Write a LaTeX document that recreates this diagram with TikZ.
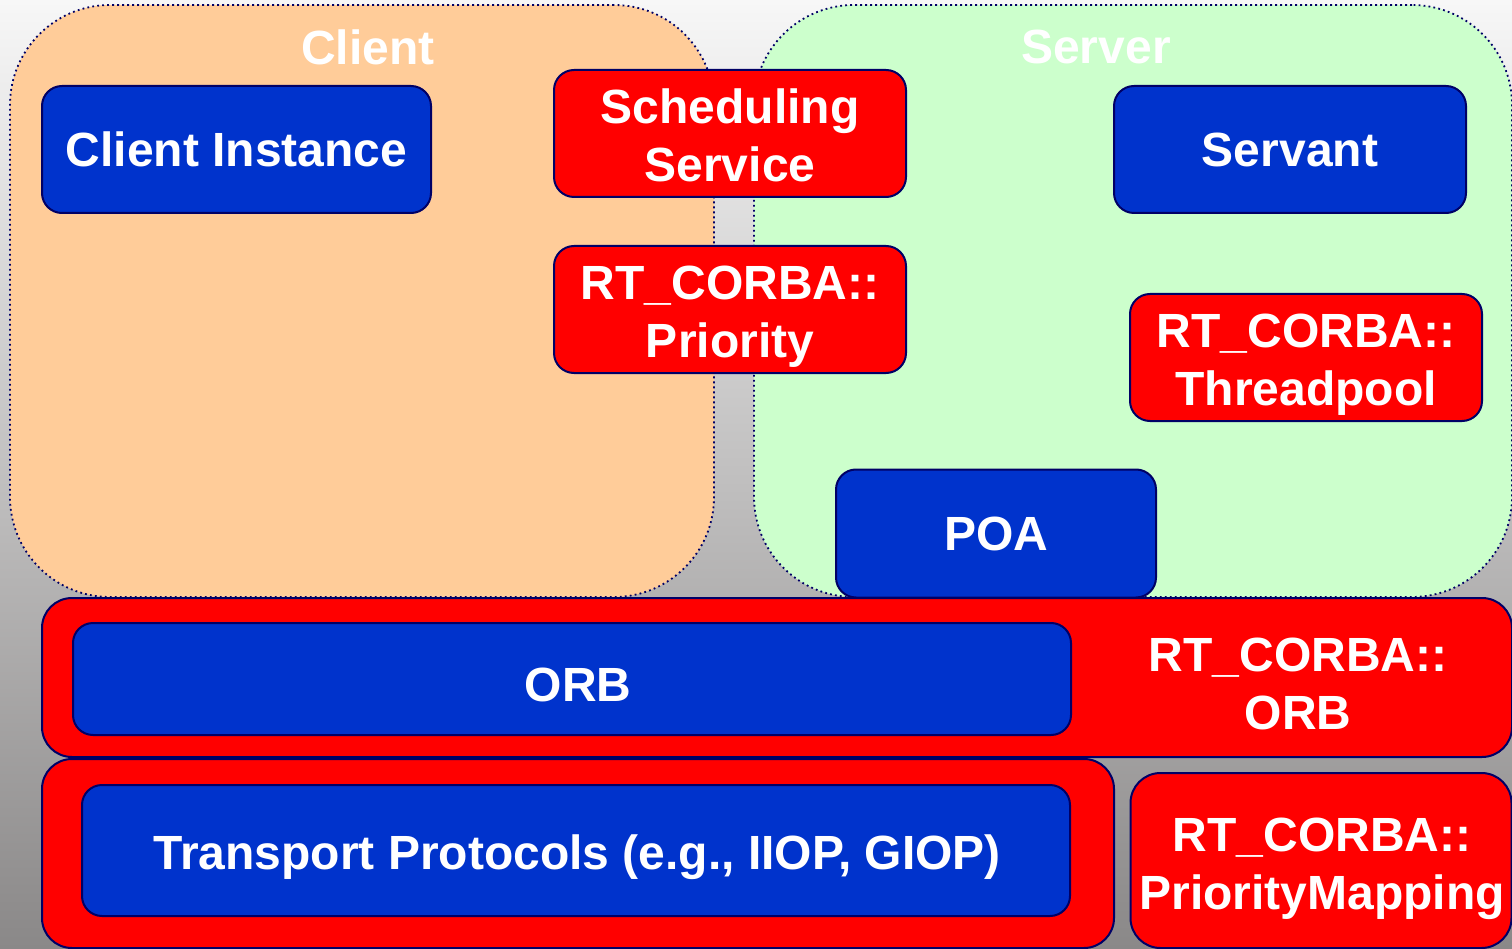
\documentclass[tikz,border=0pt]{standalone}
\usepackage{fontspec}
\setmainfont{Liberation Sans}
\definecolor{navyb}{HTML}{000066}
\definecolor{boxblue}{HTML}{0033CC}
\definecolor{boxred}{HTML}{FF0000}
\definecolor{peach}{HTML}{FFCC99}
\definecolor{mint}{HTML}{CCFFCC}
\definecolor{bgtop}{HTML}{F7F7F7}
\definecolor{bgbot}{HTML}{8A8888}
\tikzset{
  lbl/.style={text=white, font=\bfseries\fontsize{48}{58}\selectfont, align=center, inner sep=0pt},
  boxbase/.style={draw=navyb, line width=2pt, rounded corners=20pt, lbl, text height=34.5pt, text depth=0pt},
  bluebox/.style={boxbase, fill=boxblue},
  redbox/.style={boxbase, fill=boxred},
  region/.style={draw=navyb, line width=1.8pt, dash pattern=on 1.8pt off 3.2pt, rounded corners=100pt, inner sep=0pt},
}
\begin{document}
\begin{tikzpicture}[x=1pt,y=-1pt]
\useasboundingbox (0,0) rectangle (1512,949);
\clip (0,0) rectangle (1512,949);
\shade[top color=bgtop, bottom color=bgbot] (0,0) rectangle (1512,949);
% regions
\node[region, fill=peach, minimum width=704pt, minimum height=592pt] (client) at (362,301) {};
\node[region, fill=mint, minimum width=758pt, minimum height=592pt] (server) at (1133,301) {};
\node[lbl] (clientlbl) at (368,47) {Client};
\node[lbl] (serverlbl) at (1096,47) {Server};
% client/server boxes
\node[bluebox, minimum width=389pt, minimum height=127pt] (ci) at (236.5,149.5) {Client Instance};
\node[redbox, minimum width=352pt, minimum height=127pt] (sched) at (730,133.5) {};
\node[lbl] (schedlbl) at (730,135.5) {Scheduling\\Service};
\node[redbox, minimum width=352pt, minimum height=127pt] (prio) at (730,309.5) {};
\node[lbl] (priolbl) at (730,316.5) {RT\_CORBA::\\Priority};
\node[bluebox, minimum width=352pt, minimum height=127pt] (servant) at (1290,149.5) {Servant};
\node[redbox, minimum width=352pt, minimum height=127pt] (tpool) at (1306,357.5) {};
\node[lbl] (tpoollbl) at (1306,364.5) {RT\_CORBA::\\Threadpool};
\node[bluebox, minimum width=320pt, minimum height=128pt] (poa) at (996,533.5) {POA};
% ORB layer
\node[redbox, rounded corners=30pt, minimum width=1470pt, minimum height=159pt] (rtorb) at (777,677.5) {};
\node[lbl] (rtorblbl) at (1298,684) {RT\_CORBA::\\ORB};
\node[bluebox, minimum width=998pt, minimum height=112pt] (orb) at (572,679) {};
\node[lbl, text height=34.5pt, text depth=0pt] (orblbl) at (578,684) {ORB};
% transport layer
\node[redbox, rounded corners=30pt, minimum width=1072pt, minimum height=189pt] (trout) at (578,853.5) {};
\node[bluebox, minimum width=988pt, minimum height=131pt] (transport) at (576,850.5) {};
\node[lbl, text height=34.5pt, text depth=0pt] (transportlbl) at (577,852) {Transport Protocols (e.g., IIOP, GIOP)};
\node[redbox, rounded corners=30pt, minimum width=381pt, minimum height=175pt] (pmap) at (1321,860.5) {};
\node[lbl] (pmaplbl) at (1322,869) {RT\_CORBA::\\PriorityMapping};
\end{tikzpicture}
\end{document}
